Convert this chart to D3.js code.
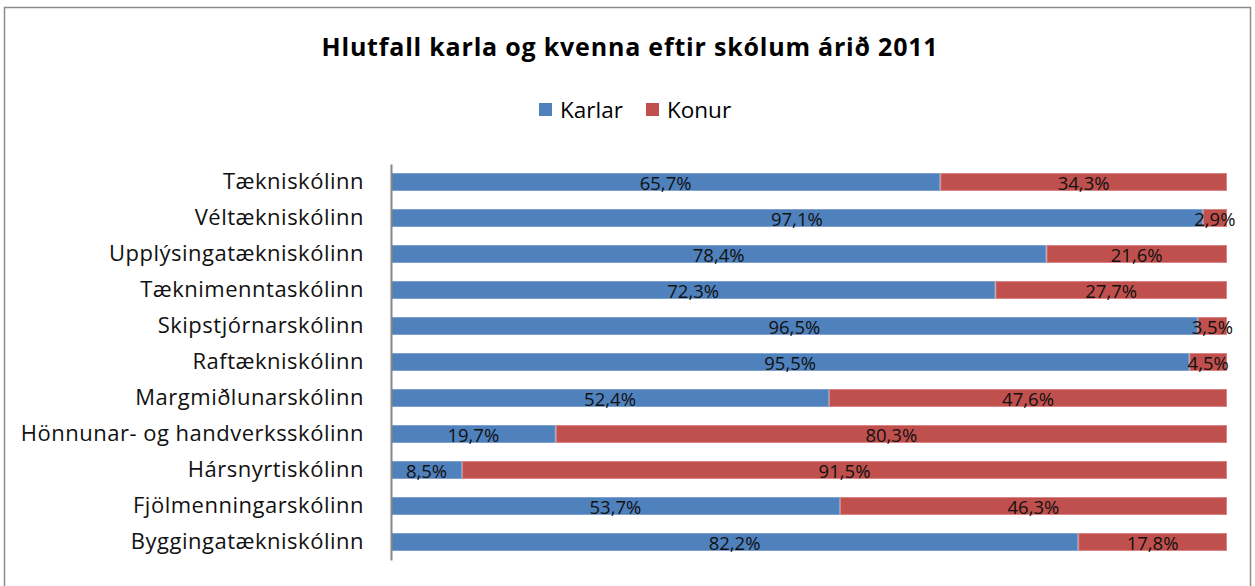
<!DOCTYPE html>
<html>
<head>
<meta charset="utf-8">
<script src="https://cdn.jsdelivr.net/npm/d3@7"></script>
<style>
	body { margin: 0; background: #fff; }
	svg { display: block; font-family: "Open Sans", sans-serif; }
</style>
</head>
<body>
<svg id="chart" width="1255" height="586"></svg>
<script>
//chart data
var schools = ["Tækniskólinn","Véltækniskólinn","Upplýsingatækniskólinn","Tæknimenntaskólinn","Skipstjórnarskólinn","Raftækniskólinn","Margmiðlunarskólinn","Hönnunar- og handverksskólinn","Hársnyrtiskólinn","Fjölmenningarskólinn","Byggingatækniskólinn"];
var karlar = [65.7, 97.1, 78.4, 72.3, 96.5, 95.5, 52.4, 19.7, 8.5, 53.7, 82.2];
var konur = [34.3, 2.9, 21.6, 27.7, 3.5, 4.5, 47.6, 80.3, 91.5, 46.3, 17.8];
var seriesNames = ["Karlar","Konur"];
var colors = ["#4F81BD","#C0504D"];
var edges = ["#7EA1D0","#D88583"];

var svg = d3.select("#chart");

//outer frame
svg.append("rect")
	.attr("x", 4.5).attr("y", 7.5)
	.attr("width", 1246).attr("height", 590)
	.attr("fill", "none").attr("stroke", "#8c8c8c").attr("stroke-width", 1.5);

//title
svg.append("text")
	.attr("x", 630).attr("y", 56)
	.attr("text-anchor", "middle")
	.attr("font-weight", "bold").attr("font-size", 25)
	.attr("letter-spacing", 0.8)
	.text("Hlutfall karla og kvenna eftir skólum árið 2011");

//legend
var legendX = [539, 646];
seriesNames.forEach(function(name, i) {
	svg.append("rect")
		.attr("x", legendX[i]).attr("y", 103)
		.attr("width", 13).attr("height", 13)
		.attr("fill", colors[i]);
	svg.append("text")
		.attr("x", legendX[i] + 21).attr("y", 118)
		.attr("font-size", 22.5)
		.text(name);
});

//build rows for stacking
var rows = schools.map(function(s, i) {
	return {school: s, Karlar: karlar[i], Konur: konur[i]};
});
var stacked = d3.stack().keys(seriesNames)(rows);

var x = d3.scaleLinear().domain([0, 100]).range([391, 1227]);
var y = d3.scaleBand().domain(schools).range([164, 560]).paddingInner(0.5).paddingOuter(0.25);

var layers = svg.selectAll("g.layer")
	.data(stacked)
	.enter().append("g")
	.attr("class", "layer");

layers.selectAll("rect")
	.data(function(d, i) { return d.map(function(p) { return {p: p, i: i}; }); })
	.enter().append("rect")
	.attr("x", function(d) { return x(d.p[0]) + 0.5; })
	.attr("y", function(d) { return y(d.p.data.school) + 0.5; })
	.attr("width", function(d) { return x(d.p[1]) - x(d.p[0]) - 1; })
	.attr("height", y.bandwidth() - 1)
	.attr("fill", function(d) { return colors[d.i]; })
	.attr("stroke", function(d) { return edges[d.i]; })
	.attr("stroke-width", 1);

//value labels
layers.selectAll("text")
	.data(function(d) { return d; })
	.enter().append("text")
	.attr("x", function(d) { return (x(d[0]) + x(d[1])) / 2; })
	.attr("y", function(d) { return y(d.data.school) + y.bandwidth() / 2 + 8; })
	.attr("text-anchor", "middle")
	.attr("font-size", 18.5)
	.attr("fill", "#111")
	.text(function(d) { return d3.format(".1f")(d[1] - d[0]).replace(".", ",") + "%"; });

//category axis
var yAxis = d3.axisLeft(y).tickSize(0).tickPadding(27);
var ga = svg.append("g").attr("transform", "translate(391,0)").call(yAxis);
ga.select(".domain").attr("stroke", "#868686").attr("stroke-width", 2);
ga.selectAll("text").attr("font-size", 22).attr("letter-spacing", 0.5)
	.attr("fill", "#111").attr("font-family", "'Open Sans', sans-serif");
</script>
</body>
</html>
